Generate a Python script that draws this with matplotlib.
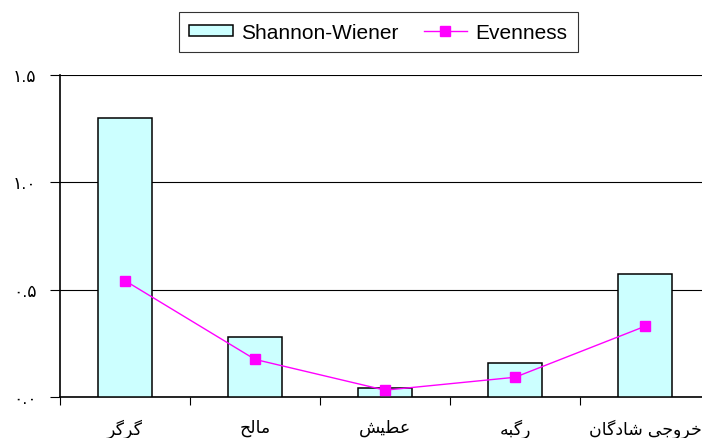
import matplotlib
matplotlib.use("Agg")
import matplotlib.pyplot as plt
import numpy as np

plt.rcParams['font.family'] = ['Liberation Sans', 'DejaVu Sans']

# categories (Persian, written as shaped presentation forms in visual order)
categories = ['\uFEAE\uFB94\uFEAE\uFB94',                       # گرگر
              '\uFEA2\uFEDF\uFE8E\uFEE3',                       # مالح
              '\uFEB6\uFBFF\uFEC4\uFECB',                       # عطیش
              '\uFEEA\uFE92\uFB94\uFEAD',                       # رگبه
              '\uFEE5\uFE8E\uFB94\uFEA9\uFE8E\uFEB7 \uFBFD\uFE9F\uFEED\uFEAE\uFEA7']  # خروجی شادگان
shannon = [1.30, 0.28, 0.045, 0.158, 0.576]
evenness = [0.543, 0.177, 0.034, 0.094, 0.331]
yticks = [0.0, 0.5, 1.0, 1.5]
ytick_labels = ['\u06F0.\u06F0', '\u06F0.\u06F5', '\u06F1.\u06F0', '\u06F1.\u06F5']

fig = plt.figure(figsize=(7.02, 4.39), dpi=100)
ax = fig.add_axes([0.0855, 0.0923, 0.926, 0.735])

x = np.arange(len(categories))
bars = ax.bar(x, shannon, width=0.41, color='#CCFFFF', edgecolor='black', linewidth=1.1,
              label='Shannon-Wiener', zorder=3)
line, = ax.plot(x, evenness, color='#FF00FF', linewidth=1.0, marker='s', markersize=7,
                label='Evenness', zorder=4)

ax.set_xlim(-0.5, len(categories) - 0.5)
ax.set_ylim(0, 1.5)
ax.set_yticks(yticks)
ax.set_yticklabels(ytick_labels, fontsize=12.5)
ax.yaxis.grid(True, color='black', linewidth=0.8)
ax.set_axisbelow(True)

ax.set_xticks(x)
ax.set_xticklabels(categories, fontsize=12.5)
ax.set_xticks(np.arange(len(categories) + 1) - 0.5, minor=True)
ax.tick_params(axis='x', which='major', length=0, pad=15)
ax.tick_params(axis='x', which='minor', length=6, width=0.8, direction='out')
ax.tick_params(axis='y', length=7, width=0.8, pad=10)

for s in ['top', 'right']:
    ax.spines[s].set_visible(False)
for s in ['left', 'bottom']:
    ax.spines[s].set_linewidth(1.2)

leg = fig.legend([bars, line], ['Shannon-Wiener', 'Evenness'],
                 loc='upper center', bbox_to_anchor=(0.539, 0.993), ncol=2, fontsize=15,
                 frameon=True, fancybox=False, edgecolor='black', handlelength=2.1,
                 handleheight=0.5, handletextpad=0.4, columnspacing=1.2, borderpad=0.5)
leg.get_frame().set_linewidth(0.8)

fig.savefig('out.png', dpi=100)
